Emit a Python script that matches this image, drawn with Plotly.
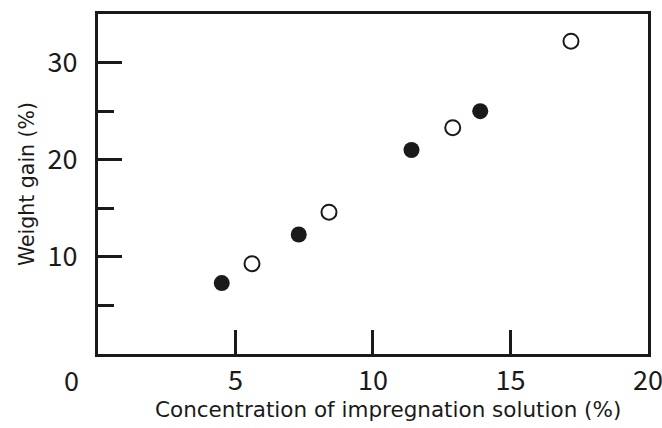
import plotly.graph_objects as go

# Data
filled_x = [4.5, 7.3, 11.4, 13.9]
filled_y = [7.3, 12.3, 21.0, 25.0]
open_x = [5.6, 8.4, 12.9, 17.2]
open_y = [9.3, 14.6, 23.3, 32.2]

x_tickvals = [5, 10, 15, 20]
y_tickvals = [10, 20, 30]
y_minorvals = [5, 15, 25]

INK = "#1a1a1a"
TICKFONT = "Noto Sans CJK JP, Noto Sans, sans-serif"
TITLEFONT = "DejaVu Sans, sans-serif"

fig = go.Figure()
fig.add_trace(go.Scatter(
    x=filled_x, y=filled_y, mode="markers",
    marker=dict(symbol="circle", size=16, color=INK, line=dict(width=0)),
    showlegend=False, hoverinfo="skip"))
fig.add_trace(go.Scatter(
    x=open_x, y=open_y, mode="markers",
    marker=dict(symbol="circle", size=15, color="white", line=dict(width=2, color=INK)),
    showlegend=False, hoverinfo="skip"))

fig.update_layout(
    width=662, height=428,
    margin=dict(l=98, r=14, t=14, b=74),
    paper_bgcolor="white", plot_bgcolor="white",
    xaxis=dict(
        range=[0, 20.001], tickvals=x_tickvals, ticktext=[str(v) for v in x_tickvals],
        ticks="inside", ticklen=24, tickwidth=3, tickcolor=INK,
        showline=True, linewidth=3, linecolor=INK, mirror=True,
        showgrid=False, zeroline=False,
        tickfont=dict(family=TICKFONT, size=27, color=INK),
        ticklabelstandoff=1, ticklabeloverflow="allow",
        automargin=False,
    ),
    yaxis=dict(
        range=[0, 35], tickvals=y_tickvals, ticktext=[str(v) for v in y_tickvals],
        ticks="inside", ticklen=24, tickwidth=3, tickcolor=INK,
        minor=dict(tickvals=y_minorvals, ticks="inside", ticklen=16, tickwidth=3, tickcolor=INK, showgrid=False),
        showline=True, linewidth=3, linecolor=INK, mirror=True,
        showgrid=False, zeroline=False,
        tickfont=dict(family=TICKFONT, size=27, color=INK),
        ticklabelstandoff=12,
        title=dict(text="Weight gain (%)",
                   font=dict(family=TITLEFONT, size=20.5, color=INK), standoff=8),
        automargin=False,
    ),
)

# X-axis title (placed slightly right of centre as in the reference)
fig.add_annotation(
    text="Concentration of impregnation solution (%)", xref="paper", yref="paper",
    x=0.5, y=0, xanchor="center", yanchor="middle", xshift=15, yshift=-55,
    showarrow=False, font=dict(family=TITLEFONT, size=21.5, color=INK))

# Shared origin label "0" at the lower-left corner
fig.add_annotation(
    text="0", xref="paper", yref="paper", x=0, y=0,
    xanchor="center", yanchor="top", xshift=-27, yshift=-4,
    showarrow=False, font=dict(family=TICKFONT, size=27, color=INK))

fig.write_html("out.html")
